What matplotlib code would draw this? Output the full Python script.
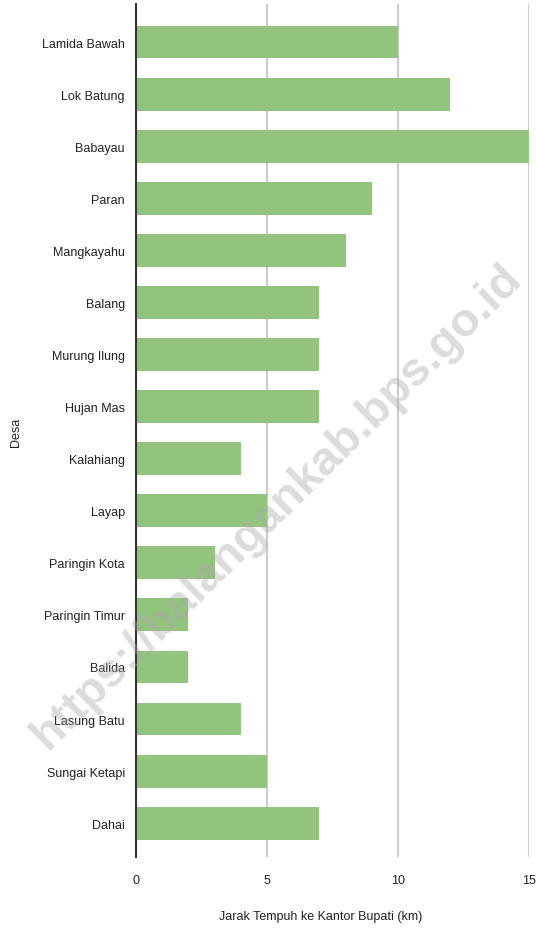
import matplotlib.pyplot as plt

plt.rcParams['font.family'] = ['Liberation Sans', 'DejaVu Sans']

desa = ['Lamida Bawah', 'Lok Batung', 'Babayau', 'Paran', 'Mangkayahu', 'Balang',
        'Murung Ilung', 'Hujan Mas', 'Kalahiang', 'Layap', 'Paringin Kota',
        'Paringin Timur', 'Balida', 'Lasung Batu', 'Sungai Ketapi', 'Dahai']
jarak = [10, 12, 15, 9, 8, 7, 7, 7, 4, 5, 3, 2, 2, 4, 5, 7]
x_ticks = [0, 5, 10, 15]

fig = plt.figure(figsize=(5.36, 9.29), dpi=100)
ax = fig.add_axes([0.2537, 0.0764, 0.7333, 0.9182])

pos = list(range(len(desa)))
ax.barh(pos, jarak, height=0.63, color='#93c47d', zorder=3)

ax.set_ylim(15.65, -0.73)
ax.set_xlim(0, 15)
ax.set_yticks(pos)
ax.set_yticklabels(desa, fontsize=9, color='#222222')
ax.set_xticks(x_ticks)
ax.set_xticklabels([str(t) for t in x_ticks], fontsize=9, color='#222222')
ax.tick_params(length=0, pad=8)
ax.tick_params(axis='x', pad=12)

ax.grid(axis='x', color='#cccccc', linewidth=1.5, zorder=0)
for s in ['top', 'right', 'bottom']:
    ax.spines[s].set_visible(False)
ax.spines['left'].set_color('#333333')
ax.spines['left'].set_linewidth(1.5)
ax.spines['left'].set_zorder(4)

fig.text(0.5975, 0.006, 'Jarak Tempuh ke Kantor Bupati (km)', ha='center', va='bottom',
         fontsize=9, color='#222222')
fig.text(0.03, 0.535, 'Desa', rotation=90, ha='center', va='center',
         fontsize=9, color='#222222')

# watermark
fig.text(0.517, 0.454, 'https://balangankab.bps.go.id', rotation=44.7,
         ha='center', va='center', fontsize=34, fontweight='bold',
         color='#a8a8a8', alpha=0.4, zorder=10)

fig.savefig('out.png', dpi=100)
